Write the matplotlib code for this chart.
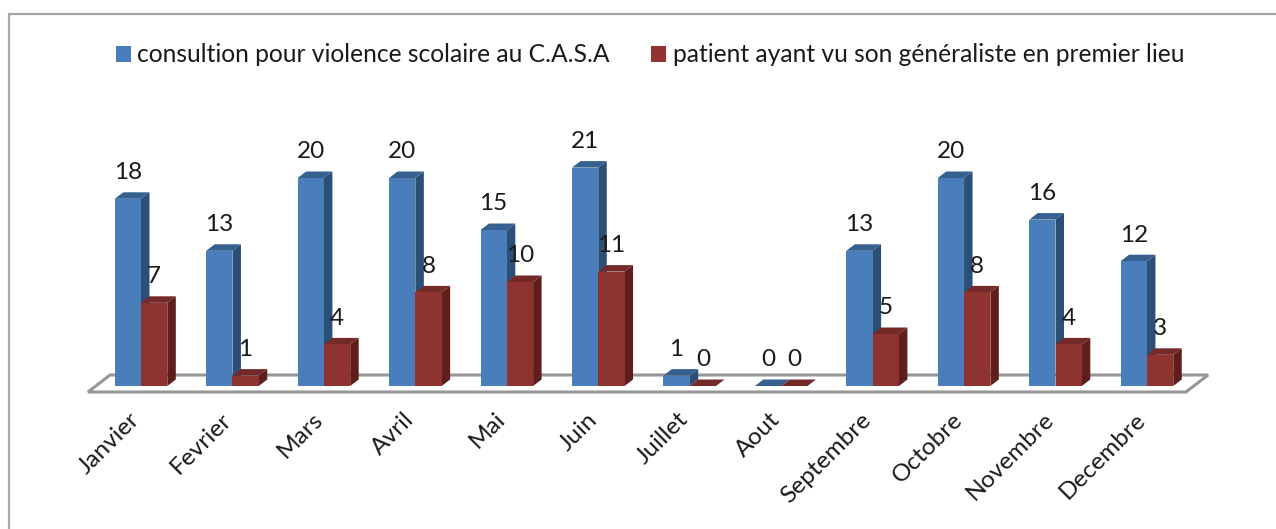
import matplotlib
matplotlib.use("Agg")
import matplotlib.pyplot as plt
from matplotlib.patches import Polygon, Rectangle
from matplotlib.transforms import ScaledTranslation

months = ["Janvier", "Fevrier", "Mars", "Avril", "Mai", "Juin", "Juillet", "Aout",
          "Septembre", "Octobre", "Novembre", "Decembre"]
consultations = [18, 13, 20, 20, 15, 21, 1, 0, 13, 20, 16, 12]
generaliste_labels = [7, 1, 4, 8, 10, 11, 0, 0, 5, 8, 4, 3]
generaliste_heights = [8, 1, 4, 9, 10, 11, 0, 0, 5, 9, 4, 3]
series_names = ["consultion pour violence scolaire au C.A.S.A",
                "patient ayant vu son généraliste en premier lieu"]

W, H = 1276, 529
PX_X, PX_Y = 91.45, 10.4
plt.rcParams["font.family"] = ["Lato", "DejaVu Sans"]
fig = plt.figure(figsize=(W / 100, H / 100), dpi=100, facecolor="white")
ax = fig.add_axes([0, (H - 392) / H, 1, 392 / H])
ax.set_xlim(-141 / PX_X, (W - 141) / PX_X)
ax.set_ylim(-6 / PX_Y, 386 / PX_Y)
for s in ax.spines.values():
    s.set_visible(False)
ax.set_yticks([])
ax.patch.set_alpha(0)

width = 26.3 / PX_X
dx, dy = 8.5 / PX_X, 6.5 / PX_Y
grey = "#969696"
text_color = "#1a1a1a"

# frame
fig.add_artist(Rectangle((8.5 / W, -0.1), (W + 50) / W, (H - 14) / H + 0.1,
                         transform=fig.transFigure, fill=False, ec="#a6a6a6", lw=1.6))
# floor
fy, by = -6 / PX_Y, 11 / PX_Y
fx0, fx1 = (88 - 141) / PX_X, (1186 - 141) / PX_X
shift = 22 / PX_X
ax.add_patch(Polygon([(fx0, fy), (fx1, fy), (fx1 + shift, by), (fx0 + shift, by)],
                     closed=True, fc="white", ec=grey, lw=2.2, zorder=1, clip_on=False))


def draw_series(offset, values, front, side, top):
    bars = ax.bar([i + offset for i in range(len(values))], values, width=width, align="edge",
                  color=front, edgecolor="none", zorder=3)
    for bar, v in zip(bars, values):
        x = bar.get_x()
        ax.add_patch(Polygon([(x + width, 0), (x + width + dx, dy), (x + width + dx, v + dy), (x + width, v)],
                             closed=True, fc=side, ec="none", zorder=2.5))
        ax.add_patch(Polygon([(x, v), (x + dx, v + dy), (x + width + dx, v + dy), (x + width, v)],
                             closed=True, fc=top, ec="none", zorder=2.6))
    return bars


blue = draw_series(-width, consultations, "#4a7ebb", "#2c4f78", "#35608f")
red = draw_series(0, generaliste_heights, "#8e3330", "#5f1e1c", "#732a28")

for i, v in enumerate(consultations):
    ax.annotate(str(v), (i - width / 2, v), xytext=(0, 26), textcoords="offset pixels",
                ha="center", va="center", fontsize=17.5, color=text_color, zorder=5)
for i, (h, lab) in enumerate(zip(generaliste_heights, generaliste_labels)):
    ax.annotate(str(lab), (i + width / 2, h), xytext=(0, 26), textcoords="offset pixels",
                ha="center", va="center", fontsize=17.5, color=text_color, zorder=5)

ax.set_xticks(range(len(months)))
ax.set_xticklabels(months, rotation=45, ha="right", rotation_mode="anchor", fontsize=17.6, color=text_color)
ax.tick_params(axis="x", length=0, pad=12)
for lab in ax.get_xticklabels():
    lab.set_transform(lab.get_transform() + ScaledTranslation(-12 / 100, 0, fig.dpi_scale_trans))

handles = [Rectangle((0, 0), 1, 1, fc="#4a7ebb"), Rectangle((0, 0), 1, 1, fc="#8e3330")]
ax.legend(handles, series_names, loc="center left", bbox_to_anchor=(116 / W, 1 - 55 / H),
          bbox_transform=fig.transFigure, ncol=2, frameon=False, fontsize=17.7,
          handlelength=0.61, handleheight=0.61, handletextpad=0.25, columnspacing=1.7,
          labelcolor=text_color, borderpad=0, borderaxespad=0)

fig.savefig("out.png", dpi=100)
